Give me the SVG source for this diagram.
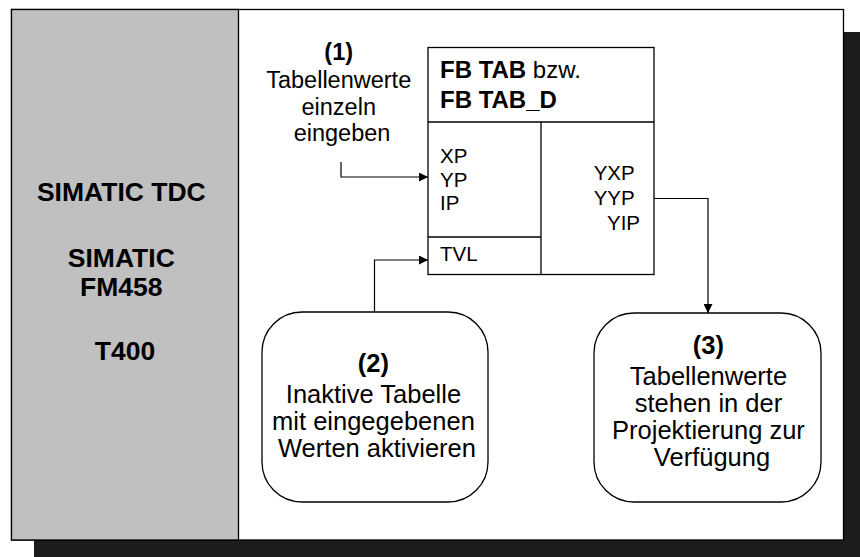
<svg xmlns="http://www.w3.org/2000/svg" width="860" height="557" viewBox="0 0 860 557">
  <style>
    text { font-family: "Liberation Sans", Arial, sans-serif; fill: #000; }
    .side { font-size: 26.5px; font-weight: bold; }
    .note { font-size: 23.5px; }
    .head { font-size: 24px; }
    .port { font-size: 20.5px; }
    .step { font-size: 25.5px; }
    .b { font-weight: bold; }
    .ln { fill: none; stroke: #000; stroke-width: 1.3; }
    .conn { fill: none; stroke: #000; stroke-width: 1.2; }
  </style>
  <defs>
    <marker id="arrow" viewBox="0 0 10 10" refX="10" refY="5" markerWidth="9" markerHeight="9" markerUnits="userSpaceOnUse" orient="auto">
      <path d="M0,0 L10,5 L0,10 z" fill="#000"/>
    </marker>
  </defs>

  <!-- drop shadow and frame -->
  <rect x="34" y="32" width="840" height="540" fill="#1c1c1c"/>
  <rect x="11.5" y="9.5" width="832" height="530.5" fill="#fff" stroke="#000" stroke-width="1.3"/>

  <!-- platform panel -->
  <g id="platforms">
    <rect x="11.5" y="9.5" width="227" height="530.5" fill="#c0c0c0" stroke="#000" stroke-width="1.3"/>
    <text class="side" text-anchor="middle">
      <tspan x="125" y="201">SIMATIC TDC</tspan>
      <tspan x="125" y="267">SIMATIC</tspan>
      <tspan x="125" y="296">FM458</tspan>
      <tspan x="125" y="360">T400</tspan>
    </text>
  </g>

  <!-- function block -->
  <g id="fb-tab">
    <rect x="428" y="47.5" width="226" height="227" fill="#fff" class="ln"/>
    <line x1="428" y1="122" x2="654" y2="122" class="ln"/>
    <line x1="541" y1="122" x2="541" y2="274.5" class="ln"/>
    <line x1="428" y1="237" x2="541" y2="237" class="ln"/>
    <text class="head" x="440" y="78"><tspan class="b">FB TAB</tspan> bzw.</text>
    <text class="head b" x="440" y="108">FB TAB_D</text>
    <text class="port">
      <tspan x="440" y="163">XP</tspan>
      <tspan x="440" y="187">YP</tspan>
      <tspan x="440" y="210">IP</tspan>
    </text>
    <text class="port" x="440" y="261">TVL</text>
    <text class="port" text-anchor="end">
      <tspan x="640" y="180">YXP</tspan>
      <tspan x="640" y="205">YYP</tspan>
      <tspan x="640" y="230">YIP</tspan>
    </text>
  </g>

  <!-- step 1 label -->
  <g id="step1">
    <text class="note" text-anchor="middle">
      <tspan class="b" x="342" y="60">(1)</tspan>
      <tspan x="342" y="88">Tabellenwerte</tspan>
      <tspan x="342" y="115">einzeln</tspan>
      <tspan x="342" y="141">eingeben</tspan>
    </text>
  </g>

  <!-- step 2 -->
  <g id="step2">
    <rect x="262" y="312" width="226" height="190" rx="40" ry="40" fill="#fff" class="ln"/>
    <text class="step" text-anchor="middle">
      <tspan class="b" x="377" y="372">(2)</tspan>
      <tspan x="377" y="403">Inaktive Tabelle</tspan>
      <tspan x="377" y="430">mit eingegebenen</tspan>
      <tspan x="377" y="457">Werten aktivieren</tspan>
    </text>
  </g>

  <!-- step 3 -->
  <g id="step3">
    <rect x="594" y="313" width="227" height="189" rx="40" ry="40" fill="#fff" class="ln"/>
    <text class="step" text-anchor="middle">
      <tspan class="b" x="712" y="354">(3)</tspan>
      <tspan x="712" y="385">Tabellenwerte</tspan>
      <tspan x="712" y="412">stehen in der</tspan>
      <tspan x="712" y="439">Projektierung zur</tspan>
      <tspan x="712" y="466">Verfügung</tspan>
    </text>
  </g>

  <!-- connectors -->
  <g id="connectors">
    <path class="conn" d="M341,162 V177 H428" marker-end="url(#arrow)"/>
    <path class="conn" d="M374.5,312 V260 H428" marker-end="url(#arrow)"/>
    <path class="conn" d="M654,198.5 H708 V313" marker-end="url(#arrow)"/>
  </g>
</svg>
